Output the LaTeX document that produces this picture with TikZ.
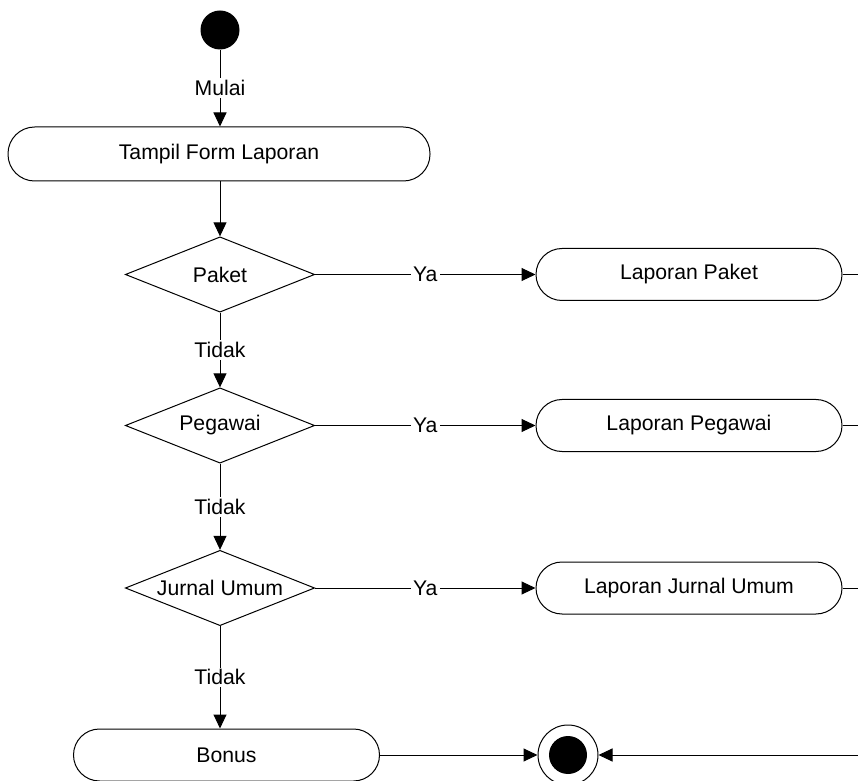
\documentclass[tikz,border=0pt]{standalone}
\usepackage{fontspec}
\setmainfont{Liberation Sans}
\usetikzlibrary{shapes.geometric, arrows.meta}
\begin{document}
\begin{tikzpicture}[x=0.75pt, y=-0.75pt,
  every node/.style={font=\fontsize{15.9}{19}\selectfont},
  line/.style={draw, line width=0.75pt},
  arr/.style={line, -{Triangle[length=10.5pt, width=9.75pt]}},
  act/.style={draw, line width=0.75pt, rounded corners=19.5pt, minimum width=229.5pt, minimum height=39pt, inner sep=0pt},
  dec/.style={draw, line width=0.75pt, diamond, shape aspect=2.5, minimum width=142pt, minimum height=56.5pt, inner sep=0pt},
  lbl/.style={fill=white, inner sep=1.5pt},
  startnode/.style={circle, fill=black, minimum size=29.25pt, inner sep=0pt},
  endouter/.style={circle, draw, line width=0.75pt, minimum size=45pt, inner sep=0pt},
  endinner/.style={circle, fill=black, minimum size=28.5pt, inner sep=0pt}
]
\useasboundingbox (0,0) rectangle (858,781);

\node[startnode] (start) at (220,30) {};
\node[act, rounded corners=20pt, minimum width=316.5pt, minimum height=40.5pt] (tampil) at (219,154) {Tampil Form Laporan};

\node[dec] (paket) at (220,274.5) {Paket};
\node[dec] (pegawai) at (220,425.5) {Pegawai};
\node[dec] (jurnal) at (220,588) {Jurnal Umum};

\node[act] (lpaket) at (689,274.5) {Laporan Paket};
\node[act] (lpegawai) at (689,425.5) {Laporan Pegawai};
\node[act] (ljurnal) at (689,588) {Laporan Jurnal Umum};

\node[act] (bonus) at (226.5,755) {Bonus};

\node[endouter] (final) at (568,755) {};
\node[endinner] (finalin) at (568,755) {};

\coordinate (e1) at (858,274.5);
\coordinate (e2) at (858,425.5);
\coordinate (e3) at (858,588);
\coordinate (e4) at (858,755);

\draw[arr] (start) -- node[lbl]{Mulai} (paket.north |- tampil.north);
\draw[arr] (paket.north |- tampil.south) -- (paket.north);

\draw[arr] (paket.east) -- node[lbl]{Ya} (lpaket.west);
\draw[arr] (pegawai.east) -- node[lbl]{Ya} (lpegawai.west);
\draw[arr] (jurnal.east) -- node[lbl]{Ya} (ljurnal.west);

\draw[arr] (paket.south) -- node[lbl]{Tidak} (pegawai.north);
\draw[arr] (pegawai.south) -- node[lbl]{Tidak} (jurnal.north);
\draw[arr] (jurnal.south) -- node[lbl]{Tidak} (jurnal.south |- bonus.north);

\draw[line] (lpaket.east) -- (e1);
\draw[line] (lpegawai.east) -- (e2);
\draw[line] (ljurnal.east) -- (e3);

\draw[arr] (bonus.east) -- (final.west);
\draw[arr] (e4) -- (final.east);
\end{tikzpicture}
\end{document}
